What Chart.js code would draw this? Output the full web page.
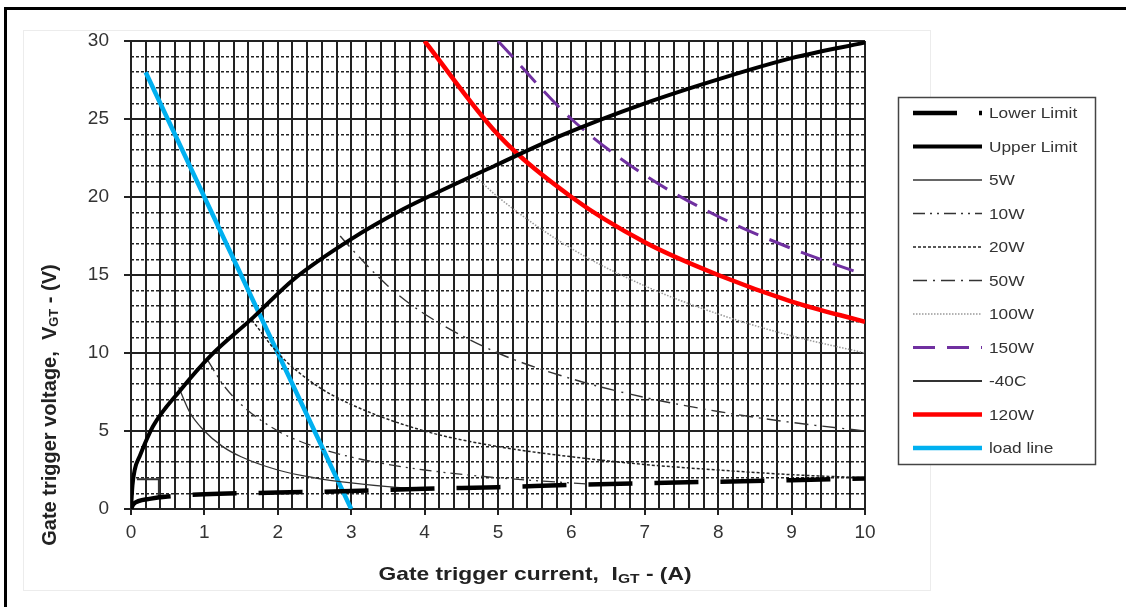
<!DOCTYPE html>
<html>
<head>
<meta charset="utf-8">
<title>Gate trigger characteristics</title>
<script src="https://cdn.jsdelivr.net/npm/chart.js@4.4.1/dist/chart.umd.min.js"></script>
<style>
    html, body { margin: 0; padding: 0; background: #fff; }
    #wrap { position: relative; width: 1126px; height: 607px; overflow: hidden; }
    #frame { position: absolute; left: 4px; top: 7px; width: 1200px; height: 700px;
             border-top: 3px solid #000; border-left: 3px solid #000; }
    #GateChart { position: absolute; left: 0; top: 0; }
</style>
</head>
<body>
<div id="wrap">
    <canvas id="GateChart" width="1126" height="607"></canvas>
    <div id="frame"></div>
</div>
<script>
// values (I in A, V in V)
var lowerI = [0, 0.03, 0.1, 0.25, 0.5, 1, 2, 3, 4, 5, 6, 7, 8, 9, 10];
var lowerV = [0, 0.3, 0.5, 0.65, 0.8, 0.95, 1.05, 1.15, 1.3, 1.4, 1.55, 1.65, 1.75, 1.85, 1.95];

var upperI = [0, 0.02, 0.05, 0.12, 0.3, 0.67, 1.08, 1.67, 2.21, 3, 3.66, 4, 5, 5.84, 7, 8.11, 9, 10];
var upperV = [0, 1.5, 2.5, 3.4, 5.3, 7.6, 9.8, 12.3, 14.7, 17.3, 19.1, 19.9, 22.1, 23.9, 26.0, 27.7, 28.9, 29.9];

var w5I = [0.65, 0.8, 1, 1.25, 1.5, 2, 2.5, 3, 3.5, 4.1];
var w5V = [7.8, 6.2, 5, 4, 3.35, 2.5, 2, 1.67, 1.43, 1.25];

var w10I = [1.05, 1.25, 1.5, 2, 2.5, 3, 3.5, 4, 5, 6, 6.4];
var w10V = [9.5, 8, 6.7, 5, 4, 3.33, 2.86, 2.5, 2, 1.67, 1.56];

var w20I = [1.65, 2, 2.5, 3, 4, 5, 6, 7, 8, 9, 10];
var w20V = [12.1, 10, 8, 6.7, 5, 4, 3.35, 2.85, 2.5, 2.2, 2];

var w50I = [2.85, 3, 3.5, 4, 5, 6, 7, 8, 9, 10];
var w50V = [17.5, 16.7, 14.3, 12.5, 10, 8.35, 7.15, 6.25, 5.55, 5];

var w100I = [4.65, 5, 6, 7, 8, 9, 10];
var w100V = [21.5, 20, 16.7, 14.3, 12.5, 11.1, 10];

var w150I = [5, 6, 7, 8, 9, 10];
var w150V = [30, 25, 21.4, 18.75, 16.7, 15];

var coldI = [0.08, 0.38, 0.38];
var coldV = [1.9, 1.9, 0.8];

var w120I = [4, 5, 6, 7, 8, 9, 10];
var w120V = [30, 24, 20, 17.1, 15, 13.3, 12];

var loadI = [0.2, 3];
var loadV = [28, 0];

var FONT = "'Liberation Sans', Arial, sans-serif";

function pts(xs, ys) {
    var out = [];
    for (var i = 0; i < xs.length; i++) out.push({ x: xs[i], y: ys[i] });
    return out;
}

function isWhole(v) {
    return Math.abs(v - Math.round(v)) < 1e-6;
}

function series(label, xs, ys, color, width, dash) {
    return {
        label: label,
        data: pts(xs, ys),
        borderColor: color,
        backgroundColor: color,
        borderWidth: width,
        borderDash: dash || [],
        pointRadius: 0,
        fill: false,
        cubicInterpolationMode: 'monotone'
    };
}

// title text with a subscript part, squeezed/stretched by sx along the text
function drawParts(ctx, parts, cx, cy, rotated, sx) {
    var total = 0;
    parts.forEach(function (p) {
        ctx.font = 'bold ' + p.s + 'px ' + FONT;
        p.w = ctx.measureText(p.t).width;
        total += p.w;
    });
    ctx.save();
    ctx.translate(cx, cy);
    if (rotated) ctx.rotate(-Math.PI / 2);
    ctx.scale(sx, 1);
    ctx.fillStyle = '#222';
    ctx.textBaseline = 'middle';
    ctx.textAlign = 'left';
    var x = -total / 2;
    parts.forEach(function (p) {
        ctx.font = 'bold ' + p.s + 'px ' + FONT;
        ctx.fillText(p.t, x, p.dy || 0);
        x += p.w;
    });
    ctx.restore();
}

var sheetPlugin = {
    id: 'sheet',
    beforeDraw: function (chart) {
        var ctx = chart.ctx;
        ctx.save();
        ctx.fillStyle = '#fff';
        ctx.fillRect(0, 0, chart.width, chart.height);
        ctx.strokeStyle = '#ececec';
        ctx.lineWidth = 1;
        ctx.strokeRect(23.5, 30.5, 907, 560);
        ctx.restore();
    },
    afterDraw: function (chart) {
        var ctx = chart.ctx;
        drawParts(ctx, [
            { t: 'Gate trigger current,  I', s: 19 },
            { t: 'GT', s: 13, dy: 4 },
            { t: ' - (A)', s: 19 }
        ], 535, 575, false, 1.2);
        drawParts(ctx, [
            { t: 'Gate trigger voltage,  V', s: 20 },
            { t: 'GT', s: 13, dy: 4 },
            { t: ' - (V)', s: 20 }
        ], 50, 405, true, 1);

        // legend box
        ctx.save();
        ctx.fillStyle = '#fff';
        ctx.fillRect(898, 97, 198, 368);
        ctx.strokeStyle = '#444';
        ctx.lineWidth = 1.5;
        ctx.strokeRect(898.5, 97.5, 197, 367);
        ctx.font = '15px ' + FONT;
        ctx.textBaseline = 'middle';
        chart.data.datasets.forEach(function (ds, i) {
            var y = 113 + i * 33.5;
            ctx.beginPath();
            ctx.setLineDash(ds.borderDash);
            ctx.lineWidth = Math.max(ds.borderWidth, 1.6);
            ctx.strokeStyle = ds.borderColor;
            ctx.lineCap = 'butt';
            ctx.moveTo(913, y);
            ctx.lineTo(982, y);
            ctx.stroke();
            ctx.setLineDash([]);
            ctx.save();
            ctx.translate(989, y + 1);
            ctx.scale(1.15, 1);
            ctx.fillStyle = '#333';
            ctx.fillText(ds.label, 0, 0);
            ctx.restore();
        });
        ctx.restore();
    }
};

function showGateChart() {
    var ctx = document.getElementById('GateChart').getContext('2d');

    var datasets = [
        series('Lower Limit', lowerI, lowerV, '#000', 4.5, [44, 22]),
        series('Upper Limit', upperI, upperV, '#000', 4),
        series('5W', w5I, w5V, '#333', 1.3),
        series('10W', w10I, w10V, '#333', 1.3, [12, 5, 2, 5, 2, 5]),
        series('20W', w20I, w20V, '#222', 1.5, [3, 2]),
        series('50W', w50I, w50V, '#333', 1.4, [14, 6, 2, 6]),
        series('100W', w100I, w100V, '#999', 1.5, [1.5, 1.5]),
        series('150W', w150I, w150V, '#7030A0', 3, [22, 12]),
        series('-40C', coldI, coldV, '#333', 2),
        series('120W', w120I, w120V, '#FF0000', 4.5),
        series('load line', loadI, loadV, '#00B0F0', 4.5)
    ];
    datasets[8].cubicInterpolationMode = 'default';
    datasets[8].tension = 0;

    var gateChart = new Chart(ctx, {
        type: 'line',
        data: { datasets: datasets },
        plugins: [sheetPlugin],
        options: {
            responsive: false,
            animation: false,
            layout: { padding: { left: 0, right: 261, top: 41, bottom: 0 } },
            plugins: {
                legend: { display: false },
                tooltip: { enabled: false }
            },
            scales: {
                x: {
                    type: 'linear',
                    min: 0,
                    max: 10,
                    afterFit: function (scale) { scale.height = 98; },
                    ticks: {
                        stepSize: 0.2,
                        autoSkip: false,
                        maxRotation: 0,
                        padding: 6,
                        color: '#333',
                        font: { family: FONT, size: 19 },
                        callback: function (v) { return isWhole(v) ? String(Math.round(v)) : ''; }
                    },
                    grid: {
                        color: '#222',
                        lineWidth: 2,
                        tickLength: 6,
                        tickColor: function (c) {
                            return c.tick && isWhole(c.tick.value) ? '#222' : 'rgba(0,0,0,0)';
                        }
                    },
                    border: { display: false }
                },
                y: {
                    type: 'linear',
                    min: 0,
                    max: 30,
                    afterFit: function (scale) { scale.width = 131; },
                    ticks: {
                        stepSize: 1,
                        autoSkip: false,
                        padding: 15,
                        color: '#333',
                        font: { family: FONT, size: 19 },
                        callback: function (v) { return v % 5 === 0 ? String(v) : ''; }
                    },
                    grid: {
                        color: '#222',
                        lineWidth: function (c) { return c.tick && c.tick.value % 5 === 0 ? 2 : 1.5; },
                        tickLength: 7,
                        tickColor: function (c) {
                            return c.tick && c.tick.value % 5 === 0 ? '#222' : 'rgba(0,0,0,0)';
                        }
                    },
                    border: {
                        display: false,
                        dash: function (c) { return c.tick && c.tick.value % 5 !== 0 ? [3, 2] : []; }
                    }
                }
            }
        }
    });
}

showGateChart();
</script>
</body>
</html>
